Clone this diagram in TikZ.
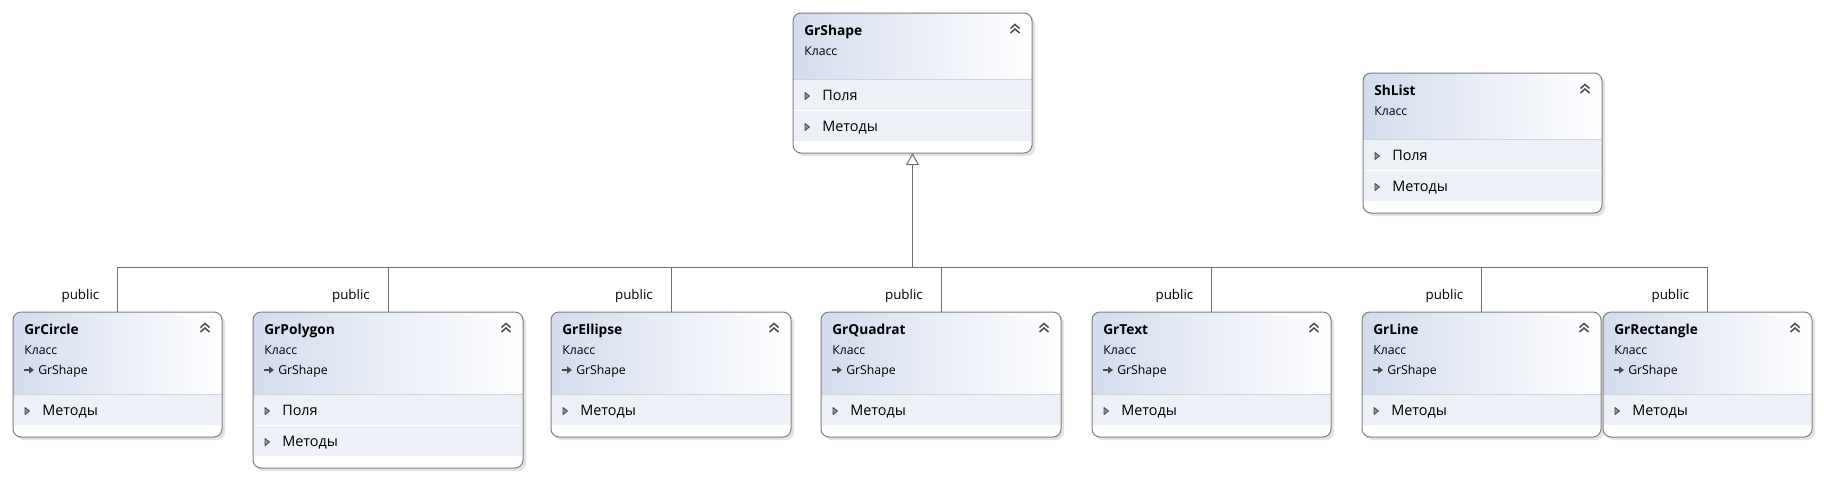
\documentclass[tikz,border=0pt]{standalone}
\usepackage{fontspec}
\setmainfont{Open Sans}
\usetikzlibrary{calc,shadows,arrows.meta}
\definecolor{bordc}{HTML}{7F7F7F}
\definecolor{hdrL}{HTML}{D3DCEE}
\definecolor{rowc}{HTML}{EDF0F7}
\definecolor{divc}{HTML}{CFD3DA}
\definecolor{connc}{HTML}{6F6F6F}
\definecolor{iconc}{HTML}{4A4A4A}
\def\px{0.75pt}
\tikzset{
  ubox/.style={draw=none, fill=white, inner sep=0pt, outer sep=0pt,
    rounded corners=8*\px,
    drop shadow={shadow xshift=3*\px, shadow yshift=-3*\px, fill=black!22}},
  bordline/.style={draw=bordc, line width=1*\px, rounded corners=8*\px},
  divider/.style={draw=divc, line width=1*\px},
  ttl/.style={font=\bfseries\fontsize{10.3}{12}\selectfont, inner sep=0pt, anchor=base west},
  subt/.style={font=\fontsize{9.2}{11}\selectfont, inner sep=0pt, anchor=base west},
  rowt/.style={font=\fontsize{10.8}{13}\selectfont, inner sep=0pt, anchor=base west},
  pubt/.style={font=\fontsize{10}{12}\selectfont, inner sep=0pt, anchor=base east},
  conn/.style={draw=connc, line width=1*\px},
  chevl/.style={draw=iconc, line width=1.5*\px},
}
% #1 name, #2 left, #3 top, #4 width, #5 height, #6 header height, #7 title
\newcommand\umlbox[7]{%
  \node[ubox, minimum width=#4*\px, minimum height=#5*\px, anchor=north west] (#1) at (#2,#3) {};
  \begin{scope}
    \clip[rounded corners=8*\px] (#1.north west) rectangle (#1.south east);
    \shade[left color=hdrL, right color=white] (#1.north west) rectangle ($(#1.north east)+(0,#6)$);
  \end{scope}
  \draw[divider] ($(#1.north west)+(0,#6)$) -- ($(#1.north east)+(0,#6)$);
  \node[ttl] (#1-t) at ($(#1.north west)+(11,22)$) {#7};
  \node[subt] (#1-k) at ($(#1.north west)+(11,42)$) {Класс};
  \coordinate (#1-c) at ($(#1.north east)+(-17,16)$);
  \draw[chevl] ($(#1-c)+(-4.5,-0.5)$) -- ($(#1-c)+(0,-4.5)$) -- ($(#1-c)+(4.5,-0.5)$);
  \draw[chevl] ($(#1-c)+(-4.5,4)$) -- ($(#1-c)+(0,0)$) -- ($(#1-c)+(4.5,4)$);
}
% base class line: #1 name
\newcommand\umlbase[1]{%
  \coordinate (#1-a) at ($(#1.north west)+(11,58)$);
  \draw[draw=iconc, line width=1.4*\px, -{Triangle[length=5*\px, width=7*\px]}] (#1-a) -- ++(10,0);
  \node[subt] (#1-b) at ($(#1.north west)+(25,62)$) {GrShape};
}
% row: #1 name, #2 row name, #3 top offset, #4 text
\newcommand\umlrow[4]{%
  \fill[rowc] ($(#1.north west)+(1,#3)$) rectangle ($(#1.north east)+(-1,#3+30)$);
  \coordinate (#2) at ($(#1.north west)+(14,#3+16)$);
  \filldraw[draw=iconc, fill=iconc!60, line width=0.8*\px, line join=round] ($(#2)+(-2,-3.5)$) -- ($(#2)+(2.5,0)$) -- ($(#2)+(-2,3.5)$) -- cycle;
  \node[rowt] (#2-t) at ($(#1.north west)+(29,#3+20.5)$) {#4};
}
\newcommand\umlborder[1]{%
  \draw[bordline] (#1.north west) rectangle (#1.south east);
}
\begin{document}
\begin{tikzpicture}[x=0.75pt,y=-0.75pt]
\useasboundingbox (0,0) rectangle (1824,479);

% top classes
\umlbox{GrShape}{793}{13}{239}{140}{66}{GrShape}
\umlrow{GrShape}{GrShape-f}{67}{Поля}
\umlrow{GrShape}{GrShape-m}{98}{Методы}
\umlborder{GrShape}

\umlbox{ShList}{1363}{73}{239}{140}{66}{ShList}
\umlrow{ShList}{ShList-f}{67}{Поля}
\umlrow{ShList}{ShList-m}{98}{Методы}
\umlborder{ShList}

% derived classes
\umlbox{GrCircle}{13}{312}{209}{125}{82}{GrCircle}
\umlbase{GrCircle}
\umlrow{GrCircle}{GrCircle-m}{83}{Методы}
\umlborder{GrCircle}

\umlbox{GrPolygon}{253}{312}{270}{156}{82}{GrPolygon}
\umlbase{GrPolygon}
\umlrow{GrPolygon}{GrPolygon-f}{83}{Поля}
\umlrow{GrPolygon}{GrPolygon-m}{114}{Методы}
\umlborder{GrPolygon}

\umlbox{GrEllipse}{551}{312}{240}{125}{82}{GrEllipse}
\umlbase{GrEllipse}
\umlrow{GrEllipse}{GrEllipse-m}{83}{Методы}
\umlborder{GrEllipse}

\umlbox{GrQuadrat}{821}{312}{240}{125}{82}{GrQuadrat}
\umlbase{GrQuadrat}
\umlrow{GrQuadrat}{GrQuadrat-m}{83}{Методы}
\umlborder{GrQuadrat}

\umlbox{GrText}{1092}{312}{239}{125}{82}{GrText}
\umlbase{GrText}
\umlrow{GrText}{GrText-m}{83}{Методы}
\umlborder{GrText}

\umlbox{GrLine}{1362}{312}{239}{125}{82}{GrLine}
\umlbase{GrLine}
\umlrow{GrLine}{GrLine-m}{83}{Методы}
\umlborder{GrLine}

\umlbox{GrRectangle}{1603}{312}{209}{125}{82}{GrRectangle}
\umlbase{GrRectangle}
\umlrow{GrRectangle}{GrRectangle-m}{83}{Методы}
\umlborder{GrRectangle}

% inheritance connectors
\coordinate (bus) at (913,267);
\draw[conn] (GrCircle.north |- bus) -- (GrRectangle.north |- bus);
\draw[conn, -{Triangle[open, length=12*\px, width=13*\px, fill=white]}] (GrShape.south |- bus) -- (GrShape.south);
\foreach \c in {GrCircle,GrPolygon,GrEllipse,GrQuadrat,GrText,GrLine,GrRectangle}{
  \draw[conn] (\c.north) -- (\c.north |- bus);
  \node[pubt] (\c-pub) at ($(\c.north |- bus)+(-18,32)$) {public};
}
\end{tikzpicture}
\end{document}
